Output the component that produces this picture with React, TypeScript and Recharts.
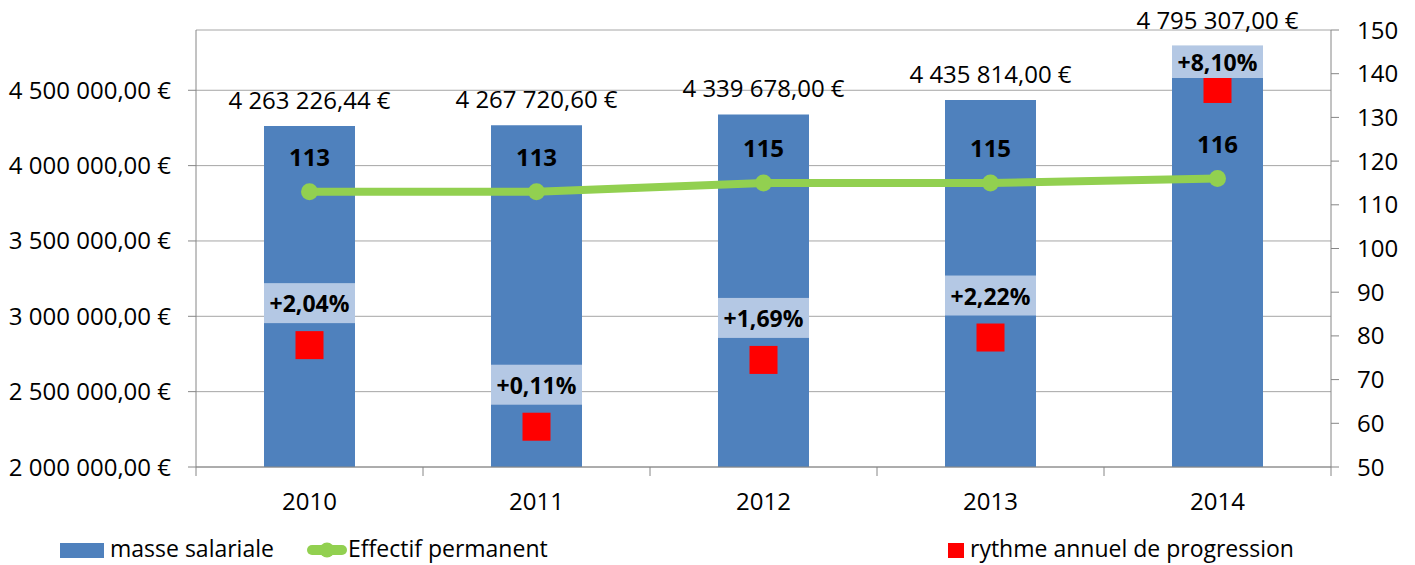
/* Masse salariale / effectif permanent — combo chart (bars + line + markers) */

import {
  ComposedChart,
  Bar,
  Line,
  Scatter,
  XAxis,
  YAxis,
  CartesianGrid,
  LabelList,
} from 'recharts';

/* ── Data ─────────────────────────────────────── */

const years = ['2010', '2011', '2012', '2013', '2014'];
const masseSalariale = [4263226.44, 4267720.6, 4339678.0, 4435814.0, 4795307.0];
const effectifPermanent = [113, 113, 115, 115, 116];
const rythmeAnnuel = [2.04, 0.11, 1.69, 2.22, 8.1];

const euroTicks = [2000000, 2500000, 3000000, 3500000, 4000000, 4500000];
const effectifTicks = [50, 60, 70, 80, 90, 100, 110, 120, 130, 140, 150];

const data = years.map((year, i) => ({
  year,
  masse: masseSalariale[i],
  effectif: effectifPermanent[i],
  rythme: rythmeAnnuel[i],
}));

/* ── Layout ───────────────────────────────────── */

const WIDTH = 1415;
const HEIGHT = 565;
const LEFT_AXIS_W = 196;
const RIGHT_AXIS_W = 84;
const PLOT_TOP = 30;
const X_AXIS_H = 98;
const BAND = (WIDTH - LEFT_AXIS_W - RIGHT_AXIS_W) / years.length;
const BAR_SIZE = 91;

const FONT = '"Open Sans", sans-serif';
const FS = 24;
const AXIS_GREY = '#868686';
const GRID_GREY = '#a6a6a6';
const BLUE = '#4f81bd';
const GREEN = '#92d050';
const RED = '#ff0000';
const BOX_BLUE = '#b4c8e4';

const formatEuro = (v: number) => {
  const [int, dec] = v.toFixed(2).split('.');
  return int.replace(/\B(?=(\d{3})+(?!\d))/g, ' ') + ',' + dec + ' €';
};

const formatPct = (v: number) => '+' + v.toFixed(2).replace('.', ',') + '%';

/* ── Custom pieces ────────────────────────────── */

function YearTick(props: any) {
  const { x, y, payload, index } = props;
  const half = BAND / 2;
  return (
    <g>
      <line x1={x - half} y1={y - 9} x2={x - half} y2={y} stroke={AXIS_GREY} />
      {index === years.length - 1 && (
        <line x1={x + half} y1={y - 9} x2={x + half} y2={y} stroke={AXIS_GREY} />
      )}
      <text x={x} y={y + 34} textAnchor="middle" fontSize={FS} fill="#000">
        {payload.value}
      </text>
    </g>
  );
}

function MasseLabel(props: any) {
  const { x, y, width, value } = props;
  return (
    <text x={x + width / 2} y={y - 17} textAnchor="middle" fontSize={FS} fill="#000">
      {formatEuro(Number(value))}
    </text>
  );
}

function RythmeMark(props: any) {
  const { cx, cy, payload } = props;
  let top = cy - 62;
  let bottom = cy - 22;
  if (top < PLOT_TOP + 16) {
    top = PLOT_TOP + 16;
    bottom = Math.max(bottom, top + 32);
  }
  return (
    <g>
      <rect x={cx - 14} y={cy - 14} width={28} height={28} fill={RED} />
      <rect x={cx - BAR_SIZE / 2} y={top} width={BAR_SIZE} height={bottom - top} fill={BOX_BLUE} />
      <text
        x={cx}
        y={(top + bottom) / 2}
        textAnchor="middle"
        dominantBaseline="central"
        fontSize={23}
        fontWeight="bold"
        fill="#000"
      >
        {formatPct(payload.rythme)}
      </text>
    </g>
  );
}

function ChartLegend() {
  const item: React.CSSProperties = {
    position: 'absolute',
    top: 536,
    height: 24,
    lineHeight: '24px',
    display: 'flex',
    alignItems: 'center',
    fontSize: 23,
    color: '#000',
    whiteSpace: 'nowrap',
  };
  return (
    <>
      <div style={{ ...item, left: 60 }}>
        <span style={{ width: 44, height: 15, background: BLUE, marginRight: 6, marginTop: 4 }} />
        masse salariale
      </div>
      <div style={{ ...item, left: 307 }}>
        <svg width={40} height={16} style={{ marginRight: 1, marginTop: 4 }}>
          <line x1={5} y1={8} x2={35} y2={8} stroke={GREEN} strokeWidth={10} strokeLinecap="round" />
          <circle cx={20} cy={8} r={7.5} fill={GREEN} />
        </svg>
        Effectif permanent
      </div>
      <div style={{ ...item, left: 948 }}>
        <span style={{ width: 16, height: 15, background: RED, marginRight: 6, marginTop: 4 }} />
        rythme annuel de progression
      </div>
    </>
  );
}

/* ── Chart ────────────────────────────────────── */

export default function App() {
  return (
    <div
      style={{
        position: 'absolute',
        left: 0,
        top: 0,
        width: WIDTH,
        height: HEIGHT,
        fontFamily: FONT,
        background: '#fff',
      }}
    >
      <ComposedChart
        width={WIDTH}
        height={HEIGHT}
        data={data}
        margin={{ top: PLOT_TOP, right: 0, bottom: 0, left: 0 }}
      >
        <CartesianGrid vertical={false} yAxisId="left" stroke={GRID_GREY} />
        <XAxis
          dataKey="year"
          height={X_AXIS_H}
          interval={0}
          tickLine={false}
          tickSize={9}
          tickMargin={0}
          axisLine={{ stroke: AXIS_GREY }}
          tick={<YearTick />}
        />
        <YAxis
          yAxisId="left"
          width={LEFT_AXIS_W}
          domain={[2000000, 4900000]}
          ticks={euroTicks}
          tickFormatter={formatEuro}
          tickSize={8}
          tickMargin={17}
          axisLine={{ stroke: AXIS_GREY }}
          tickLine={{ stroke: AXIS_GREY }}
          tick={{ fill: '#000', fontSize: FS }}
        />
        <YAxis
          yAxisId="right"
          orientation="right"
          width={RIGHT_AXIS_W}
          domain={[50, 150]}
          ticks={effectifTicks}
          tickSize={8}
          tickMargin={18}
          axisLine={{ stroke: AXIS_GREY }}
          tickLine={{ stroke: AXIS_GREY }}
          tick={{ fill: '#000', fontSize: FS, textAnchor: 'start' }}
        />
        <YAxis yAxisId="pct" hide domain={[-0.843, 9.495]} />

        <Bar
          yAxisId="left"
          dataKey="masse"
          fill={BLUE}
          barSize={BAR_SIZE}
          isAnimationActive={false}
        >
          <LabelList dataKey="masse" content={<MasseLabel />} />
        </Bar>
        <Line
          yAxisId="right"
          type="linear"
          dataKey="effectif"
          stroke={GREEN}
          strokeWidth={8}
          dot={{ r: 8.5, fill: GREEN, stroke: 'none' }}
          activeDot={false}
          isAnimationActive={false}
        >
          <LabelList
            dataKey="effectif"
            position="top"
            offset={26}
            fill="#000"
            fontSize={FS}
            fontWeight="bold"
          />
        </Line>
        <Scatter
          yAxisId="pct"
          dataKey="rythme"
          shape={<RythmeMark />}
          isAnimationActive={false}
        />
      </ComposedChart>
      <ChartLegend />
    </div>
  );
}
